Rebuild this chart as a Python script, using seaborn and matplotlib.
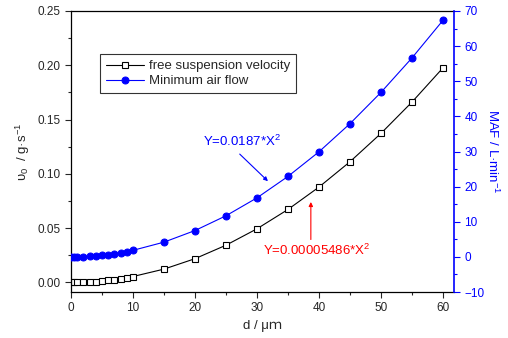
import matplotlib
matplotlib.use("Agg")
import matplotlib.pyplot as plt
import seaborn as sns
from matplotlib.ticker import MultipleLocator

# particle size (um)
d = [0, 0.5, 1, 2, 3, 4, 5, 6, 7, 8, 9, 10, 15, 20, 25, 30, 35, 40, 45, 50, 55, 60]
# free suspension velocity (g/s)
fsv = [0.0, 0.00001, 0.00005, 0.00022, 0.00049, 0.00088, 0.00137, 0.00197, 0.00269,
       0.00351, 0.00444, 0.00549, 0.0123, 0.0219, 0.0343, 0.0494, 0.0672, 0.0878,
       0.1111, 0.1372, 0.1660, 0.1975]
# minimum air flow (L/min)
maf = [0.0, 0.005, 0.019, 0.075, 0.17, 0.30, 0.47, 0.67, 0.92, 1.2, 1.5, 1.87,
       4.2, 7.5, 11.7, 16.8, 22.9, 29.9, 37.9, 46.8, 56.6, 67.3]

sns.set_style("ticks")
plt.rcParams['font.family'] = ['Liberation Sans', 'Noto Sans CJK SC', 'DejaVu Sans']
plt.rcParams['mathtext.fontset'] = 'custom'
plt.rcParams['mathtext.rm'] = 'Liberation Sans'
plt.rcParams['mathtext.it'] = 'Liberation Sans'

fig = plt.figure(figsize=(5.08, 3.38), dpi=100)
ax = fig.add_axes([0.1398, 0.136, 0.7539, 0.8315])
ax2 = ax.twinx()

blue = "#0000ff"

sns.lineplot(x=d, y=fsv, ax=ax, color="black", lw=0.8, marker="s", ms=4.3,
             markerfacecolor="white", markeredgecolor="black", markeredgewidth=0.8,
             label="free suspension velocity", legend=False)
sns.lineplot(x=d, y=maf, ax=ax2, color=blue, lw=0.8, marker="o", ms=5,
             markerfacecolor=blue, markeredgecolor=blue,
             label="Minimum air flow", legend=False)

ax.set_xlim(0, 61.8)
ax.set_ylim(-0.0088, 0.25)
ax2.set_ylim(-10, 70)

ax.xaxis.set_major_locator(MultipleLocator(10))
ax.xaxis.set_minor_locator(MultipleLocator(5))
ax.yaxis.set_major_locator(MultipleLocator(0.05))
ax.yaxis.set_minor_locator(MultipleLocator(0.025))
ax2.yaxis.set_major_locator(MultipleLocator(10))
ax2.yaxis.set_minor_locator(MultipleLocator(5))
ax.yaxis.set_major_formatter(matplotlib.ticker.FormatStrFormatter('%.2f'))

# bottom/left ticks point out
ax.tick_params(axis='both', which='major', labelsize=8.5, length=4, width=0.8, direction='out')
ax.tick_params(axis='both', which='minor', length=2.5, width=0.8, direction='out')
ax.tick_params(axis='x', which='both', top=False)
# top ticks point in (drawn by the twin axis)
ax2.tick_params(axis='x', which='both', top=True, bottom=False, labeltop=False,
                labelbottom=False, direction='in', length=3.5, width=0.8)
ax2.tick_params(axis='y', which='major', labelsize=8.5, length=4, width=0.8,
                direction='out', colors=blue)
ax2.tick_params(axis='y', which='minor', length=2.5, width=0.8, direction='out', colors=blue)

for s in ax.spines.values():
    s.set_linewidth(0.9)
    s.set_color("black")
ax2.spines['right'].set_color(blue)
ax2.spines['right'].set_linewidth(1.2)
ax2.spines['top'].set_visible(False)
ax2.spines['left'].set_visible(False)
ax2.spines['bottom'].set_visible(False)
ax.spines['right'].set_visible(False)

ax.set_xlabel("d / μｍ", fontsize=9.5, labelpad=4)
ax.set_ylabel("υ$_0$  / g·s$^{-1}$", fontsize=9.5, labelpad=4)
ax2.set_ylabel("MAF / L·min$^{-1}$", fontsize=9.5, color=blue, rotation=270, labelpad=11)

# equation labels and arrows
ax.text(27.6, 0.130, "Y=0.0187*X$^2$", color=blue, fontsize=9.5, ha="center", va="center")
ax.annotate("", xy=(32.1, 0.0915), xytext=(26.9, 0.120),
            arrowprops=dict(arrowstyle="-|>", color=blue, lw=0.8, mutation_scale=6))
ax.text(39.6, 0.0296, "Y=0.00005486*X$^2$", color="red", fontsize=9.5, ha="center", va="center")
ax.annotate("", xy=(38.7, 0.0767), xytext=(38.7, 0.037),
            arrowprops=dict(arrowstyle="-|>", color="red", lw=0.8, mutation_scale=6))

h1, l1 = ax.get_legend_handles_labels()
h2, l2 = ax2.get_legend_handles_labels()
leg = ax.legend(h1 + h2, l1 + l2, loc="upper left", bbox_to_anchor=(0.197, 0.840),
                bbox_transform=fig.transFigure, borderaxespad=0, fontsize=9.5,
                frameon=True, fancybox=False, handlelength=2.9, handletextpad=0.35,
                labelspacing=0.2, borderpad=0.45)
leg.get_frame().set_edgecolor("black")
leg.get_frame().set_linewidth(0.8)

fig.savefig("out.png", dpi=100)
